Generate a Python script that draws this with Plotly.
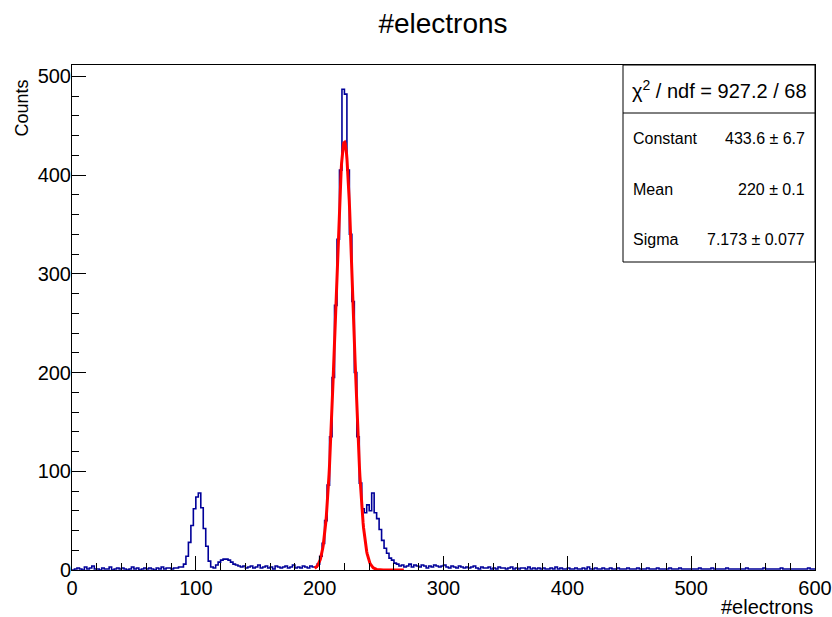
import numpy as np
import plotly.graph_objects as go

# Histogram: 300 bins of width 2 from 0 to 600
bin_width = 2
x_min, x_max = 0, 600
counts = [
    0, 1, 2, 1, 0, 3, 1, 2, 4, 1,          # 0-20
    1, 0, 2, 1, 1, 3, 0, 1, 2, 1,          # 20-40
    2, 1, 0, 1, 3, 1, 2, 0, 1, 2,          # 40-60
    1, 2, 1, 0, 2, 1, 3, 1, 2, 2,          # 60-80
    1, 2, 2, 3, 3, 6, 14, 28, 45, 62,      # 80-100
    74, 78, 63, 42, 24, 9, 3, 2, 5, 8,     # 100-120
    10, 11, 11, 10, 8, 6, 5, 4, 3, 4,      # 120-140
    2, 3, 4, 2, 3, 5, 2, 3, 4, 2,          # 140-160
    3, 1, 4, 3, 2, 3, 4, 2, 3, 5,          # 160-180
    2, 3, 2, 4, 3, 2, 4, 3, 3, 6,          # 180-200
    14, 27, 50, 86, 135, 195, 268, 335, 405, 487,   # 200-220
    482, 405, 340, 272, 200, 135, 88, 62, 58, 66,   # 220-240
    60, 78, 58, 52, 41, 30, 22, 17, 12, 10,         # 240-260
    7, 6, 4, 5, 3, 4, 6, 3, 5, 4,          # 260-280
    3, 5, 4, 2, 4, 3, 5, 4, 3, 4,          # 280-300
    5, 3, 2, 4, 3, 2, 4, 3, 2, 3,          # 300-320
    2, 3, 4, 2, 1, 3, 2, 2, 3, 1,          # 320-340
    2, 1, 3, 2, 2, 1, 2, 3, 1, 2,          # 340-360
    1, 2, 2, 1, 3, 1, 2, 1, 2, 1,          # 360-380
    2, 1, 1, 2, 1, 3, 1, 2, 1, 1,          # 380-400
    2, 1, 1, 2, 1, 1, 2, 1, 3, 1,          # 400-420
    1, 2, 1, 1, 2, 1, 1, 2, 1, 1,          # 420-440
    2, 1, 1, 1, 2, 1, 1, 1, 2, 1,          # 440-460
    1, 1, 2, 1, 1, 1, 2, 1, 1, 1,          # 460-480
    1, 2, 1, 1, 1, 2, 1, 1, 1, 1,          # 480-500
    1, 1, 1, 2, 1, 1, 1, 1, 2, 1,          # 500-520
    1, 1, 1, 1, 2, 1, 1, 1, 1, 1,          # 520-540
    1, 1, 2, 1, 1, 1, 1, 1, 1, 2,          # 540-560
    1, 1, 1, 1, 1, 1, 2, 1, 1, 1,          # 560-580
    1, 1, 1, 1, 1, 1, 1, 2, 1, 1,          # 580-600
]

# Gaussian fit parameters (from the stats box)
fit_constant = 433.6
fit_mean = 220.0
fit_sigma = 7.173
fit_range = [196, 268]

stats_rows = [
    ("Constant", "433.6 \u00b1 6.7"),
    ("Mean", "220 \u00b1 0.1"),
    ("Sigma", "7.173 \u00b1 0.077"),
]
chi2_text = "\u03c7<sup>2</sup> / ndf = 927.2 / 68"

FONT = "Liberation Sans, Arial, Helvetica, sans-serif"

edges = np.arange(x_min, x_max + bin_width, bin_width)
hx = list(edges)
hy = list(counts) + [counts[-1]]

xf = np.linspace(fit_range[0], fit_range[1], 200)
yf = fit_constant * np.exp(-0.5 * ((xf - fit_mean) / fit_sigma) ** 2)

fig = go.Figure()
fig.add_trace(go.Scatter(x=hx, y=hy, mode="lines", line=dict(shape="hv", color="#000099", width=1.6),
                         hoverinfo="skip", showlegend=False))
fig.add_trace(go.Scatter(x=xf, y=yf, mode="lines", line=dict(color="#ff0000", width=3),
                         hoverinfo="skip", showlegend=False))

W, H = 832, 617
L, R, T, B = 72, 815, 65, 570
pw, ph = R - L, B - T

def px(xpix):
    return (xpix - L) / pw

def py(ypix):
    return (B - ypix) / ph

fig.update_layout(
    width=W, height=H,
    margin=dict(l=L, r=W - R, t=T, b=H - B, autoexpand=False),
    paper_bgcolor="white", plot_bgcolor="white",
    font=dict(family=FONT, color="black", size=20),
    title=dict(text="#electrons", x=443 / W, xref="container", xanchor="center",
               y=1 - 23 / H, yref="container", yanchor="middle",
               font=dict(size=28, family=FONT, color="black")),
    showlegend=False,
)

fig.update_xaxes(range=[0, 600], showgrid=False, zeroline=False, automargin=False,
                 showline=True, linecolor="black", linewidth=1, mirror=True,
                 ticks="inside", ticklen=14, tickcolor="black", tickwidth=1,
                 dtick=100, tick0=0, tickfont=dict(size=20),
                 minor=dict(ticks="inside", ticklen=7, dtick=20, tickcolor="black", showgrid=False))
fig.update_yaxes(range=[0, 511.5], showgrid=False, zeroline=False, automargin=False,
                 showline=True, linecolor="black", linewidth=1, mirror=True,
                 ticks="inside", ticklen=14, tickcolor="black", tickwidth=1,
                 dtick=100, tick0=0, tickfont=dict(size=20), ticklabelstandoff=-4,
                 minor=dict(ticks="inside", ticklen=7, dtick=20, tickcolor="black", showgrid=False))

# Axis titles
fig.add_annotation(text="#electrons", xref="paper", yref="paper", x=1.0, y=py(607),
                   xanchor="right", yanchor="middle", showarrow=False,
                   font=dict(size=20, family=FONT))
fig.add_annotation(text="Counts", xref="paper", yref="paper", x=px(21), y=py(78),
                   xanchor="center", yanchor="top", textangle=-90, showarrow=False,
                   font=dict(size=18, family=FONT))

# Stats box
box_x0, box_y0 = px(623), py(262)
fig.add_shape(type="rect", xref="paper", yref="paper", x0=box_x0, x1=1.0, y0=box_y0, y1=1.0,
              line=dict(color="black", width=1), fillcolor="white", layer="above")
fig.add_shape(type="line", xref="paper", yref="paper", x0=box_x0, x1=1.0, y0=py(113), y1=py(113),
              line=dict(color="black", width=1))
fig.add_annotation(text=chi2_text, xref="paper", yref="paper", x=(box_x0 + 1.0) / 2, y=py(89),
                   xanchor="center", yanchor="middle", showarrow=False,
                   font=dict(size=20, family=FONT))
row_y = [138, 189, 239]
for (lab, val), yy in zip(stats_rows, row_y):
    fig.add_annotation(text=lab, xref="paper", yref="paper", x=px(631), y=py(yy),
                       xanchor="left", yanchor="middle", showarrow=False,
                       font=dict(size=16, family=FONT))
    fig.add_annotation(text=val, xref="paper", yref="paper", x=px(807), y=py(yy),
                       xanchor="right", yanchor="middle", showarrow=False,
                       font=dict(size=16, family=FONT))

fig.write_html("out.html")
